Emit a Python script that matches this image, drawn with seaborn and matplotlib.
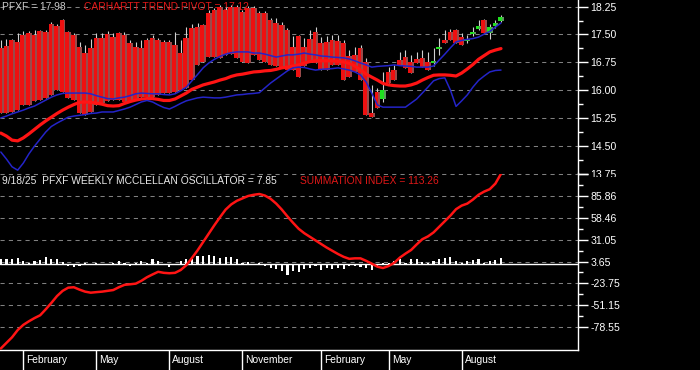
import numpy as np
import pandas as pd
import matplotlib
matplotlib.use("Agg")
import matplotlib.pyplot as plt
import matplotlib.transforms as mtransforms
from matplotlib.patches import Rectangle
import seaborn as sns

# ---------------- data ----------------
dates = pd.date_range(end="2025-09-19", periods=90, freq="W-FRI")

candle_open = [
    17.14, 17.19, 17.35, 17.30, 17.49, 17.54, 17.49, 17.59, 17.57, 17.78,
    17.73, 17.89, 17.57, 17.49, 17.16, 17.00, 17.14, 17.41, 17.41, 17.51,
    17.43, 17.54, 17.49, 17.27, 17.16, 17.14, 17.35, 17.41, 17.35, 17.30,
    17.30, 17.22, 17.00, 17.41, 17.68, 17.70, 17.76, 18.08, 18.16, 18.24,
    18.16, 18.24, 18.24, 18.11, 18.22, 18.22, 18.08, 18.08, 17.89, 17.81,
    17.76, 17.62, 17.16, 17.46, 17.16, 17.38, 17.57, 17.27, 17.30, 17.35,
    17.33, 17.27, 16.92, 16.95, 17.14, 16.76, 15.38, 15.95, 15.76, 16.49,
    16.54, 16.81, 16.89, 16.76, 16.84, 16.87, 16.76, 16.73, 17.11, 17.35,
    17.57, 17.62, 17.43, 17.33, 17.51, 17.65, 17.89, 17.54, 17.73, 17.86]
candle_close = [
    15.38, 15.38, 15.41, 15.46, 15.60, 15.60, 15.71, 15.73, 15.79, 15.87,
    16.00, 15.95, 15.79, 15.73, 15.38, 15.33, 15.41, 15.60, 15.65, 15.71,
    15.73, 15.73, 15.68, 15.68, 15.73, 15.81, 15.81, 15.81, 15.87, 15.92,
    15.92, 15.95, 16.00, 16.06, 16.27, 16.68, 16.76, 16.89, 16.89, 16.87,
    16.95, 16.97, 16.87, 16.76, 16.73, 16.95, 16.81, 16.76, 16.68, 16.65,
    16.62, 16.54, 16.54, 16.35, 16.65, 16.76, 16.73, 16.54, 16.54, 16.68,
    16.68, 16.27, 16.35, 16.49, 16.27, 15.33, 15.27, 15.52, 16.00, 16.19,
    16.27, 16.68, 16.60, 16.46, 16.73, 16.62, 16.54, 16.79, 17.16, 17.27,
    17.35, 17.27, 17.22, 17.38, 17.57, 17.73, 17.54, 17.70, 17.81, 17.98]
candle_high = [
    17.35, 17.38, 17.38, 17.54, 17.59, 17.59, 17.62, 17.62, 17.62, 17.84,
    17.78, 17.92, 17.59, 17.54, 17.30, 17.22, 17.38, 17.54, 17.54, 17.59,
    17.54, 17.57, 17.57, 17.35, 17.30, 17.35, 17.41, 17.49, 17.41, 17.35,
    17.35, 17.57, 17.35, 17.70, 17.78, 17.81, 17.78, 18.16, 18.22, 18.30,
    18.24, 18.30, 18.30, 18.16, 18.27, 18.27, 18.13, 18.13, 17.95, 17.95,
    17.84, 17.68, 17.46, 17.49, 17.41, 17.62, 17.70, 17.43, 17.46, 17.49,
    17.49, 17.35, 17.08, 17.16, 17.22, 16.87, 16.14, 16.06, 16.49, 16.62,
    16.68, 17.03, 17.08, 16.95, 17.03, 17.08, 17.03, 17.14, 17.41, 17.62,
    17.65, 17.65, 17.54, 17.49, 17.70, 17.89, 17.92, 17.78, 17.89, 18.03]
candle_low = [
    15.38, 15.38, 15.41, 15.46, 15.60, 15.60, 15.71, 15.73, 15.79, 15.87,
    16.00, 15.95, 15.79, 15.73, 15.38, 15.33, 15.41, 15.60, 15.65, 15.71,
    15.73, 15.73, 15.68, 15.68, 15.73, 15.81, 15.81, 15.81, 15.87, 15.92,
    15.92, 15.95, 16.00, 16.06, 16.27, 16.68, 16.76, 16.89, 16.89, 16.87,
    16.95, 16.97, 16.87, 16.76, 16.73, 16.95, 16.81, 16.76, 16.68, 16.65,
    16.62, 16.54, 16.54, 16.35, 16.65, 16.76, 16.73, 16.54, 16.54, 16.68,
    16.68, 16.27, 16.35, 16.49, 16.27, 15.33, 15.27, 15.52, 15.68, 16.19,
    16.27, 16.68, 16.60, 16.46, 16.73, 16.62, 16.54, 16.65, 16.95, 17.27,
    17.35, 17.27, 17.22, 17.27, 17.46, 17.62, 17.54, 17.38, 17.68, 17.84]

pivot_line = [
    14.84, 14.76, 14.65, 14.63, 14.71, 14.82, 14.94, 15.06, 15.17, 15.27,
    15.37, 15.46, 15.54, 15.61, 15.67, 15.68, 15.67, 15.65, 15.62, 15.58,
    15.57, 15.58, 15.64, 15.69, 15.73, 15.76, 15.77, 15.77, 15.75, 15.72,
    15.72, 15.76, 15.84, 15.92, 16.02, 16.08, 16.14, 16.18, 16.22, 16.27,
    16.31, 16.37, 16.41, 16.43, 16.46, 16.49, 16.50, 16.52, 16.53, 16.56,
    16.60, 16.62, 16.65, 16.68, 16.73, 16.77, 16.79, 16.79, 16.79, 16.79,
    16.77, 16.76, 16.72, 16.65, 16.54, 16.43, 16.35, 16.27, 16.18, 16.14,
    16.12, 16.11, 16.11, 16.14, 16.19, 16.27, 16.34, 16.40, 16.41, 16.41,
    16.40, 16.38, 16.46, 16.57, 16.69, 16.83, 16.93, 17.03, 17.08, 17.12]
upper_band = [
    15.25, 15.30, 15.36, 15.41, 15.46, 15.52, 15.57, 15.65, 15.73, 15.81,
    15.87, 15.91, 15.92, 15.92, 15.92, 15.92, 15.90, 15.85, 15.81, 15.77,
    15.76, 15.79, 15.81, 15.85, 15.90, 15.92, 15.91, 15.90, 15.90, 15.88,
    15.87, 15.90, 15.98, 16.08, 16.25, 16.42, 16.60, 16.73, 16.83, 16.91,
    16.97, 17.01, 17.03, 17.03, 17.03, 17.00, 17.00, 16.97, 16.93, 16.89,
    16.92, 16.95, 16.95, 16.97, 17.00, 16.97, 16.95, 16.92, 16.91, 16.89,
    16.88, 16.87, 16.84, 16.79, 16.73, 16.68, 16.62, 16.64, 16.65, 16.66,
    16.68, 16.66, 16.65, 16.64, 16.62, 16.62, 16.62, 16.65, 16.81, 16.97,
    17.14, 17.30, 17.34, 17.37, 17.39, 17.43, 17.51, 17.58, 17.70, 17.81]
lower_band = [
    14.33, 14.14, 13.93, 13.84, 14.03, 14.28, 14.49, 14.68, 14.87, 15.02,
    15.11, 15.19, 15.27, 15.30, 15.32, 15.34, 15.37, 15.38, 15.41, 15.41,
    15.41, 15.45, 15.49, 15.54, 15.61, 15.68, 15.72, 15.68, 15.60, 15.53,
    15.49, 15.56, 15.64, 15.71, 15.75, 15.79, 15.81, 15.80, 15.79, 15.79,
    15.81, 15.84, 15.87, 15.88, 15.90, 15.91, 15.93, 16.06, 16.19, 16.30,
    16.41, 16.52, 16.60, 16.62, 16.61, 16.57, 16.54, 16.56, 16.57, 16.58,
    16.60, 16.57, 16.54, 16.49, 16.41, 16.22, 15.92, 15.60, 15.54, 15.54,
    15.54, 15.54, 15.54, 15.65, 15.76, 15.92, 16.08, 16.25, 16.31, 16.33,
    16.00, 15.56, 15.71, 15.87, 16.08, 16.26, 16.38, 16.49, 16.53, 16.54]

oscillator = [
    6.2, 6.2, 7.0, 8.3, 3.7, 2.0, 4.0, 5.8, 9.5, 6.2,
    7.0, 3.3, -2.0, -3.7, -2.0, 1.7, -1.2, 1.7, -1.2, -0.4,
    1.7, 4.5, 1.7, -2.0, 1.7, 4.5, 1.7, 7.0, 4.0, -1.2,
    -3.3, -1.2, 4.0, 6.2, 7.0, 10.0, 11.0, 12.0, 11.0, 8.0,
    8.7, 9.0, 6.2, 1.7, 3.0, -1.2, 1.7, -2.0, -4.0, -5.4,
    -8.7, -13.0, -8.3, -10.0, -5.4, -4.0, -1.7, -6.6, -4.5, -6.0,
    -4.5, -6.0, -2.0, -2.0, -3.3, -4.5, -7.0, -3.0, 1.7, 1.7,
    3.7, 7.0, 1.7, 6.2, 6.6, 3.0, 1.7, 4.5, 6.2, 8.3,
    9.0, 3.7, 1.7, 4.5, 5.8, 6.2, 1.7, 4.5, 5.8, 7.85]
summation = [
    -105.0, -98.0, -91.0, -82.0, -75.5, -71.0, -67.0, -63.5, -56.0, -48.0,
    -39.5, -33.0, -29.0, -28.5, -31.5, -34.0, -35.3, -34.6, -34.0, -33.0,
    -32.0, -28.5, -25.5, -24.8, -24.0, -20.5, -16.0, -12.5, -9.2, -10.5,
    -11.0, -10.5, -7.0, -1.0, 8.0, 17.5, 28.0, 38.5, 49.0, 59.0,
    68.5, 75.0, 79.5, 82.5, 85.5, 87.0, 88.0, 86.0, 82.0, 76.0,
    68.5, 60.0, 52.0, 44.5, 39.0, 34.5, 30.0, 25.5, 21.0, 17.0,
    13.0, 9.5, 7.0, 7.6, 7.6, 4.5, 1.0, -2.8, -4.5, -2.0,
    2.0, 8.5, 13.5, 18.0, 25.0, 31.5, 35.0, 40.0, 47.0, 54.0,
    61.0, 69.0, 73.5, 76.0, 81.0, 87.0, 91.0, 94.0, 101.0, 113.26]

price_ticks = [13.75, 14.50, 15.25, 16.00, 16.75, 17.50, 18.25]
osc_ticks = [-78.55, -51.15, -23.75, 3.65, 31.05, 58.46, 85.86, 113.26]
quarter_months = [2, 5, 8, 11]

title_price = "PFXF = 17.98"
title_pivot = "CARHARTT TREND PIVOT = 17.12"
title_osc = "9/18/25  PFXF WEEKLY MCCLELLAN OSCILLATOR = 7.85"
title_sum = "SUMMATION INDEX = 113.26"

# ---------------- style ----------------
sns.set_theme(style="dark", rc={"axes.facecolor": "black",
                                "figure.facecolor": "black",
                                "savefig.facecolor": "black"})
plt.rcParams["font.family"] = ["Liberation Sans", "DejaVu Sans"]
plt.rcParams["axes.unicode_minus"] = False

W, H = 700, 370
AX_R = 578.0
TOP_B = 173.5
BOT_B = 350.0
X0_PX, STEP_PX = 0.82, 5.62
FS = 7.4
GRID = dict(color="#808080", linestyle=(0, (4, 4)), linewidth=0.75)
RED = "#ff1414"
BLUE = "#2424c8"

fig = plt.figure(figsize=(7, 3.7), dpi=100)
ax1 = fig.add_axes([0, 1 - TOP_B / H, AX_R / W, TOP_B / H])
ax2 = fig.add_axes([0, (H - BOT_B) / H, AX_R / W, (BOT_B - TOP_B) / H])
ax2.set_zorder(2)

n = len(dates)
idx = np.arange(n)
xlim = ((0 - X0_PX) / STEP_PX, (AX_R - X0_PX) / STEP_PX)

for ax in (ax1, ax2):
    ax.set_facecolor("black")
    ax.set_xlim(*xlim)
    ax.set_xticks([])
    ax.grid(False)
    for s in ("left", "top", "bottom"):
        ax.spines[s].set_visible(False)
    ax.spines["right"].set_visible(True)
    ax.spines["right"].set_color("white")
    ax.spines["right"].set_linewidth(1.0)
    ax.yaxis.tick_right()
    ax.tick_params(axis="y", which="major", length=7.4, width=1.0,
                   colors="white", labelsize=7.6, pad=1.5)
    ax.tick_params(axis="y", which="minor", length=3.4, width=1.0,
                   colors="white")

# ---------- top panel ----------
ax1.set_ylim(13.75, 18.4307)
ax1.set_yticks(price_ticks)
ax1.set_yticklabels([f"{v:.2f}" for v in price_ticks])
ax1.set_yticks([(a + b) / 2 for a, b in zip(price_ticks[:-1], price_ticks[1:])],
               minor=True)
for v in price_ticks:
    ax1.axhline(v, zorder=0.5, **GRID)

o = np.array(candle_open)
c = np.array(candle_close)
hi = np.array(candle_high)
lo = np.array(candle_low)
up = c > o
body_lo = np.minimum(o, c)
body_h = np.abs(c - o)
ax1.vlines(idx, lo, hi, color="#d0d0d0", linewidth=0.8, zorder=2)
ax1.bar(idx, body_h, bottom=body_lo, width=1.0,
        color=np.where(up, "#20e020", "#ee1010"), linewidth=0, zorder=3)
ax1.bar(idx + 0.33, body_h, bottom=body_lo, width=0.34,
        color=np.where(up, "#5c9a5c", "#9a4a4a"), linewidth=0, zorder=3.1)

sns.lineplot(x=idx, y=pivot_line, ax=ax1, color=RED, linewidth=2.3, zorder=4)
sns.lineplot(x=idx, y=upper_band, ax=ax1, color=BLUE, linewidth=1.1, zorder=5)
sns.lineplot(x=idx, y=lower_band, ax=ax1, color=BLUE, linewidth=1.1, zorder=5)
ax1.set_xlim(*xlim)
ax1.set_ylim(13.75, 18.4307)


def px1(x, y):
    return x / AX_R, 1 - y / TOP_B


ax1.text(*px1(2, 6.5), title_price, transform=ax1.transAxes, ha="left",
         va="center", color="#c8c8c8", fontsize=FS, zorder=1)
ax1.text(*px1(84, 6.5), title_pivot, transform=ax1.transAxes, ha="left",
         va="center", color="#e01818", fontsize=FS, zorder=1)

# ---------- bottom panel ----------
ylo2, yhi2 = -106.9, 113.6
ax2.set_ylim(ylo2, yhi2)
ax2.set_yticks(osc_ticks)
ax2.set_yticklabels([f"{v:.2f}" if v < 100 else "" for v in osc_ticks])
ax2.set_yticks([(a + b) / 2 for a, b in zip(osc_ticks[:-1], osc_ticks[1:])],
               minor=True)
for v in osc_ticks:
    ax2.axhline(v, zorder=0.5, **GRID)
ax2.axhline(0, color="white", linewidth=1.0, zorder=2)
ax2.spines["bottom"].set_visible(True)
ax2.spines["bottom"].set_color("white")
ax2.spines["bottom"].set_linewidth(1.0)

ax2.bar(idx, oscillator, width=0.38, color="white", linewidth=0, zorder=3)
sns.lineplot(x=idx, y=summation, ax=ax2, color=RED, linewidth=1.8, zorder=4)
ax2.set_xlim(*xlim)
ax2.set_ylim(ylo2, yhi2)

h2 = BOT_B - TOP_B


def px2(x, y):
    return x / AX_R, 1 - (y - TOP_B) / h2


ax2.text(*px2(2, 181.5), title_osc, transform=ax2.transAxes, ha="left",
         va="center", color="#e8e8e8", fontsize=FS, zorder=6)
ax2.text(*px2(300, 181.5), title_sum, transform=ax2.transAxes, ha="left",
         va="center", color="#e01818", fontsize=FS, zorder=6)

# month separators and labels in the date strip
sep_idx = [i for i in range(1, n)
           if dates[i].month != dates[i - 1].month and dates[i].month in quarter_months]
trans = mtransforms.blended_transform_factory(ax2.transData, ax2.transAxes)
ax2.vlines(sep_idx, -20 / h2, 0, transform=trans, color="white",
           linewidth=1.0, clip_on=False)
for i in sep_idx:
    ax2.annotate(dates[i].strftime("%B"), xy=(i, -10 / h2), xycoords=trans,
                 xytext=(2.2, 0), textcoords="offset points", ha="left",
                 va="center", color="white", fontsize=FS,
                 annotation_clip=False)

# hide the lower half of the top panel's last label, as in the reference
fig.add_artist(Rectangle((579.5 / W, (H - BOT_B) / H), 1 - 579.5 / W,
                         (BOT_B - 176.5) / H, transform=fig.transFigure,
                         facecolor="black", edgecolor="none", zorder=1))

fig.savefig("out.png", dpi=100, facecolor="black")
